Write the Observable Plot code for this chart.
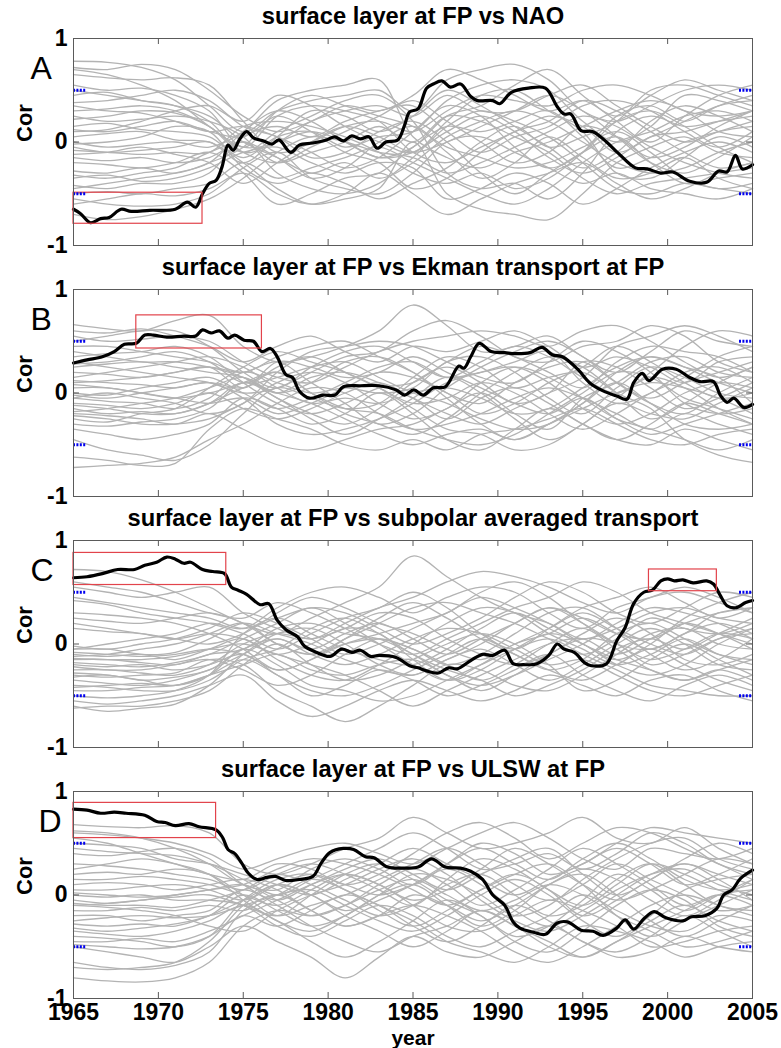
<!DOCTYPE html>
<html>
<head>
<meta charset="utf-8">
<script src="https://cdn.jsdelivr.net/npm/d3@7"></script>
<script src="https://cdn.jsdelivr.net/npm/@observablehq/plot@0.6"></script>
<style>
  html, body { margin: 0; padding: 0; background: #fff; }
  #chart { position: relative; width: 781px; height: 1048px; font-family: "Liberation Sans", Arial, Helvetica, sans-serif; }
  #chart svg { position: absolute; left: 0; }
</style>
</head>
<body>
<div id="chart"></div>
<script>
// Running correlation between the surface layer at FP and four drivers.
// Gray: ensemble members; black: observed; red boxes: significant periods;
// blue dashes: the +/-0.5 significance level.

const memberYears = [1965,1967,1969,1971,1973,1975,1977,1979,1981,1983,1985,1987,1989,1991,1993,1995,1997,1999,2001,2003,2005];
const xTicks = [1965,1970,1975,1980,1985,1990,1995,2000,2005];
const yTicks = [-1,0,1];
const sigLevels = [0.5,-0.5];

const titles = [
  "surface layer at FP vs NAO",
  "surface layer at FP vs Ekman transport at FP",
  "surface layer at FP vs subpolar averaged transport",
  "surface layer at FP vs ULSW at FP"
];
const letters = ["A","B","C","D"];

const grayA = [
  [0.78,0.77,0.72,0.6,0.35,0.1,0.3,0.4,0.45,0.5,0.3,0.6,0.7,0.75,0.6,0.3,0.2,0.35,0.5,0.55,0.5],
  [0.65,0.62,0.6,0.62,0.55,0.2,-0.1,0.0,0.15,0.2,0.1,0.3,0.45,0.4,0.35,0.5,0.55,0.45,0.3,0.25,0.3],
  [0.55,0.5,0.52,0.45,0.3,-0.05,0.25,0.35,0.3,0.2,-0.1,-0.2,-0.05,0.1,0.25,0.15,-0.1,0.05,0.2,0.35,0.4],
  [0.45,0.48,0.4,0.35,0.25,0.0,-0.15,-0.3,-0.2,-0.35,-0.2,0.05,0.2,0.3,0.2,0.0,-0.2,-0.3,-0.25,-0.1,0.0],
  [0.3,0.32,0.35,0.3,0.15,-0.1,0.1,0.25,0.4,0.45,0.2,-0.3,-0.45,-0.4,-0.55,-0.3,0.1,0.25,0.15,0.2,0.25],
  [0.25,0.2,0.22,0.25,0.2,0.05,-0.3,-0.45,-0.5,-0.4,-0.15,0.15,0.3,0.2,0.05,-0.2,-0.45,-0.5,-0.4,-0.45,-0.5],
  [0.15,0.18,0.12,0.1,0.05,-0.15,0.05,0.1,-0.05,0.05,0.1,0.4,0.55,0.6,0.5,0.2,0.0,0.15,0.45,0.4,0.3],
  [0.05,0.08,0.1,0.02,0.0,-0.2,-0.45,-0.6,-0.55,-0.45,0.0,-0.5,-0.65,-0.7,-0.75,-0.5,-0.2,-0.05,0.05,-0.1,-0.15],
  [0.0,-0.05,-0.02,0.0,-0.05,0.1,0.4,0.5,0.55,0.6,0.05,-0.15,-0.25,-0.1,0.0,0.15,0.3,0.4,0.3,0.1,0.05],
  [-0.08,-0.1,-0.12,-0.1,-0.1,0.15,0.2,0.15,0.05,-0.1,-0.3,-0.4,-0.3,-0.45,-0.35,-0.1,0.25,0.35,0.2,0.35,0.45],
  [-0.15,-0.18,-0.15,-0.2,-0.15,0.0,-0.2,-0.1,0.0,0.15,0.0,0.25,0.2,0.05,-0.1,-0.35,-0.5,-0.4,-0.35,-0.3,-0.25],
  [-0.2,-0.22,-0.25,-0.2,-0.1,-0.3,-0.6,-0.5,-0.35,-0.3,-0.05,0.15,0.1,0.2,0.3,0.05,-0.25,-0.15,0.0,0.1,0.15],
  [-0.28,-0.3,-0.25,-0.3,-0.2,-0.05,0.3,0.45,0.35,0.25,0.15,-0.05,-0.15,-0.25,-0.2,-0.05,0.1,-0.1,-0.35,-0.45,-0.4],
  [-0.35,-0.32,-0.38,-0.35,-0.25,-0.1,-0.05,-0.2,-0.3,-0.2,-0.25,-0.55,-0.45,-0.3,-0.4,-0.6,-0.45,-0.25,-0.1,0.0,-0.1],
  [-0.42,-0.45,-0.4,-0.4,-0.3,0.05,0.15,0.05,0.2,0.3,0.35,0.1,-0.1,0.05,0.15,0.35,0.4,0.3,0.1,-0.05,0.1],
  [-0.5,-0.48,-0.5,-0.45,-0.4,-0.2,-0.35,-0.25,-0.15,-0.05,-0.2,-0.35,-0.5,-0.6,-0.45,-0.2,0.0,0.1,0.25,0.3,0.2],
  [-0.55,-0.6,-0.62,-0.6,-0.5,-0.25,-0.1,-0.35,-0.45,-0.5,-0.3,0.0,0.05,-0.1,-0.25,-0.4,-0.3,-0.45,-0.5,-0.55,-0.45],
  [-0.7,-0.75,-0.72,-0.65,-0.55,-0.35,-0.1,0.05,0.0,-0.1,-0.15,-0.3,-0.2,-0.05,0.1,0.25,0.15,-0.05,-0.2,-0.3,-0.35],
  [0.7,0.65,0.55,0.4,0.15,-0.05,0.0,0.2,0.3,0.35,0.25,0.45,0.3,0.3,0.45,0.55,0.35,0.15,0.0,0.1,0.2],
  [0.38,0.4,0.45,0.5,0.4,0.15,0.05,-0.15,-0.1,0.1,0.2,0.0,-0.3,-0.5,-0.3,-0.1,0.05,-0.2,-0.4,-0.35,-0.3],
  [0.1,0.12,0.2,0.3,0.35,0.2,0.45,0.35,0.15,0.0,-0.1,0.2,0.45,0.5,0.3,0.1,-0.3,-0.35,-0.15,0.05,-0.05],
  [-0.02,0.0,0.05,0.15,0.1,-0.25,-0.4,-0.3,-0.4,-0.55,-0.4,-0.25,0.0,0.15,-0.05,0.05,0.2,0.5,0.55,0.45,0.35],
  [0.72,0.7,0.75,0.7,0.5,0.25,0.1,0.2,0.35,0.3,0.45,0.7,0.6,0.45,0.3,0.4,0.25,0.45,0.6,0.5,0.4],
  [0.22,0.25,0.3,0.28,0.15,-0.1,-0.2,-0.05,0.1,0.25,0.4,0.2,0.0,-0.2,-0.1,0.15,0.05,-0.15,-0.05,0.15,0.3],
  [0.12,0.1,0.15,0.2,0.1,0.05,0.25,0.1,-0.1,-0.2,-0.45,-0.35,-0.1,0.1,0.2,0.4,0.3,0.1,-0.1,-0.25,-0.2],
  [-0.05,-0.1,-0.08,-0.05,0.0,-0.2,0.05,0.3,0.25,0.1,0.25,0.5,0.35,0.15,-0.05,-0.25,-0.1,0.2,0.35,0.25,0.1],
  [-0.12,-0.1,-0.05,-0.12,-0.2,-0.4,-0.2,0.0,0.15,0.05,-0.1,0.0,0.15,0.3,0.45,0.3,0.05,-0.2,-0.3,-0.15,0.05],
  [-0.32,-0.35,-0.3,-0.25,-0.1,0.0,-0.15,-0.35,-0.25,0.0,0.15,-0.1,-0.35,-0.2,0.05,-0.15,-0.35,-0.3,-0.15,-0.35,-0.45],
  [-0.45,-0.4,-0.35,-0.3,-0.2,0.1,0.3,0.2,0.0,-0.15,-0.1,0.1,0.25,0.1,-0.15,-0.3,-0.15,0.05,0.1,0.2,0.3],
  [0.35,0.3,0.28,0.2,0.1,0.15,0.05,-0.1,-0.25,-0.15,0.1,0.35,0.25,-0.05,-0.25,-0.1,0.2,0.3,0.15,-0.05,-0.2],
  [-0.6,-0.55,-0.5,-0.52,-0.45,-0.3,-0.5,-0.6,-0.5,-0.3,-0.5,-0.7,-0.55,-0.4,-0.3,-0.2,-0.4,-0.55,-0.45,-0.3,-0.2],
  [0.5,0.45,0.4,0.35,0.2,-0.1,0.0,0.1,0.0,-0.15,-0.05,0.25,0.35,0.55,0.7,0.45,0.2,0.0,0.25,0.45,0.55]
];

const grayB = [
  [0.66,0.62,0.6,0.7,0.75,0.45,0.3,0.35,0.45,0.6,0.85,0.65,0.4,0.45,0.55,0.35,0.2,0.4,0.6,0.5,0.45],
  [0.55,0.5,0.52,0.55,0.5,0.3,0.15,0.1,0.25,0.4,0.5,0.55,0.6,0.55,0.45,0.6,0.65,0.5,0.3,0.15,0.25],
  [0.45,0.45,0.4,0.35,0.3,0.2,0.35,0.45,0.5,0.35,0.2,0.0,-0.1,0.1,0.25,0.3,0.1,-0.05,0.1,0.2,0.3],
  [0.35,0.38,0.4,0.45,0.35,0.1,-0.1,-0.2,-0.1,0.05,0.1,0.3,0.45,0.35,0.2,0.05,0.3,0.45,0.4,0.35,0.2],
  [0.25,0.28,0.3,0.25,0.2,0.15,0.0,0.15,0.2,0.1,-0.05,-0.2,-0.3,-0.15,0.0,0.15,0.45,0.55,0.65,0.55,0.4],
  [0.2,0.18,0.15,0.2,0.25,0.05,0.3,0.25,0.15,0.2,0.35,0.2,0.05,-0.1,-0.2,-0.05,-0.25,-0.4,-0.3,-0.2,-0.1],
  [0.12,0.1,0.08,0.05,0.1,-0.05,-0.3,-0.4,-0.35,-0.25,-0.1,0.1,0.2,0.3,0.4,0.1,-0.1,0.0,0.2,0.25,0.1],
  [0.05,0.05,0.0,-0.05,0.0,0.1,0.2,0.0,-0.15,-0.2,-0.35,-0.45,-0.5,-0.4,-0.2,0.0,0.2,0.15,-0.05,-0.15,-0.25],
  [0.0,-0.02,0.05,0.1,0.15,0.0,-0.15,-0.05,0.1,0.25,0.3,0.15,0.2,0.25,0.1,-0.15,-0.3,-0.2,0.0,0.1,0.05],
  [-0.05,-0.08,-0.1,-0.15,-0.05,0.2,0.1,0.0,0.05,0.0,0.05,0.3,0.35,0.2,-0.05,-0.2,0.05,0.25,0.15,0.0,-0.05],
  [-0.1,-0.12,-0.15,-0.1,0.0,-0.15,-0.25,-0.15,0.0,0.1,-0.05,-0.25,-0.05,0.05,-0.1,-0.3,-0.45,-0.5,-0.35,-0.45,-0.55],
  [-0.15,-0.2,-0.18,-0.2,-0.1,0.05,0.15,0.25,0.3,0.15,0.0,-0.1,-0.25,-0.35,-0.3,-0.1,0.1,-0.1,-0.3,-0.35,-0.3],
  [-0.2,-0.22,-0.25,-0.3,-0.2,-0.35,-0.5,-0.55,-0.45,-0.35,-0.3,-0.15,0.0,-0.2,-0.35,-0.05,0.1,0.3,0.35,0.2,0.15],
  [-0.25,-0.28,-0.2,-0.15,0.05,0.25,0.4,0.3,0.2,0.05,-0.15,-0.35,-0.4,-0.55,-0.5,-0.3,-0.1,-0.2,-0.25,-0.1,0.05],
  [-0.45,-0.55,-0.6,-0.65,-0.5,-0.2,0.05,-0.05,-0.15,-0.1,0.15,0.35,0.25,0.05,0.15,0.2,0.0,-0.15,-0.45,-0.6,-0.67],
  [-0.72,-0.7,-0.68,-0.62,-0.45,-0.3,-0.1,0.05,0.0,-0.2,-0.35,-0.3,-0.2,-0.05,0.05,-0.05,-0.2,-0.35,-0.2,-0.3,-0.4],
  [-0.62,-0.65,-0.7,-0.68,-0.35,-0.15,-0.25,-0.35,-0.5,-0.55,-0.45,-0.55,-0.4,-0.35,-0.25,-0.15,-0.3,-0.45,-0.5,-0.4,-0.35],
  [0.6,0.58,0.62,0.55,0.45,0.3,0.45,0.55,0.4,0.3,0.45,0.4,0.5,0.6,0.45,0.25,0.35,0.25,0.1,0.3,0.35],
  [0.3,0.25,0.2,0.15,0.1,0.0,0.05,0.2,0.35,0.4,0.6,0.7,0.55,0.35,0.3,0.45,0.5,0.65,0.55,0.3,0.2],
  [-0.3,-0.32,-0.28,-0.25,-0.15,0.1,0.0,-0.1,-0.25,-0.4,-0.5,-0.4,-0.35,-0.45,-0.3,-0.15,0.0,0.1,0.05,-0.05,-0.2],
  [0.15,0.2,0.25,0.3,0.35,0.25,0.05,-0.1,-0.05,-0.1,0.0,0.05,-0.05,-0.2,-0.15,0.05,0.25,0.35,0.25,0.15,-0.1],
  [-0.05,0.0,-0.05,-0.1,-0.2,-0.1,0.2,0.4,0.45,0.5,0.45,0.3,0.15,0.1,0.3,0.5,0.4,0.2,-0.1,-0.2,-0.15],
  [0.5,0.55,0.6,0.6,0.45,0.2,0.05,0.25,0.4,0.45,0.3,0.15,0.3,0.45,0.35,0.15,0.0,0.2,0.45,0.6,0.55],
  [0.4,0.35,0.3,0.3,0.25,0.15,-0.05,-0.2,-0.3,-0.15,0.1,0.25,0.1,-0.1,0.0,0.3,0.25,0.05,-0.15,-0.05,0.1],
  [0.1,0.12,0.15,0.2,0.25,0.2,0.3,0.1,-0.1,-0.3,-0.2,0.05,0.25,0.4,0.5,0.35,0.1,-0.1,-0.2,0.0,0.15],
  [-0.02,-0.05,0.0,0.05,0.1,0.05,0.25,0.35,0.2,0.05,-0.1,-0.05,0.1,0.0,-0.2,-0.35,-0.2,0.0,0.15,0.35,0.45],
  [-0.12,-0.15,-0.2,-0.2,-0.1,0.1,-0.05,-0.25,-0.4,-0.25,-0.05,0.15,0.0,-0.25,-0.45,-0.3,-0.05,0.15,0.05,-0.15,-0.3],
  [-0.18,-0.15,-0.1,-0.05,0.05,0.15,0.0,0.1,0.3,0.35,0.2,-0.05,-0.3,-0.45,-0.3,-0.1,0.2,0.35,0.25,0.1,0.0],
  [-0.22,-0.25,-0.3,-0.3,-0.25,-0.1,0.1,0.2,0.1,-0.1,-0.25,-0.15,0.1,0.25,0.15,-0.05,-0.25,-0.35,-0.45,-0.55,-0.45],
  [0.28,0.3,0.35,0.4,0.3,0.1,0.2,0.0,-0.2,-0.3,-0.4,-0.25,0.0,0.2,0.35,0.25,0.0,-0.25,-0.1,0.1,0.25],
  [0.08,0.05,0.0,-0.05,-0.1,-0.05,-0.2,-0.1,0.05,0.2,0.15,0.0,-0.2,-0.1,0.1,0.25,0.45,0.3,0.1,-0.05,0.0],
  [-0.35,-0.4,-0.45,-0.4,-0.3,-0.05,-0.15,-0.3,-0.2,0.0,-0.2,-0.45,-0.55,-0.35,-0.15,-0.3,-0.45,-0.3,-0.1,-0.2,-0.3]
];

const grayC = [
  [0.72,0.7,0.62,0.5,0.35,0.2,0.1,0.25,0.4,0.55,0.85,0.65,0.45,0.3,0.2,0.05,0.15,0.3,0.35,0.25,0.2],
  [0.55,0.5,0.45,0.5,0.55,0.3,0.15,0.05,0.2,0.35,0.45,0.6,0.7,0.65,0.55,0.4,0.3,0.45,0.5,0.4,0.3],
  [0.45,0.4,0.35,0.3,0.25,0.15,0.25,0.35,0.3,0.15,0.0,0.1,0.25,0.45,0.6,0.5,0.3,0.2,0.35,0.5,0.45],
  [0.25,0.22,0.2,0.25,0.3,0.2,0.0,-0.1,0.05,0.2,0.35,0.4,0.3,0.2,0.05,-0.1,0.05,0.25,0.15,0.1,0.2],
  [0.15,0.12,0.1,0.05,0.0,0.1,0.3,0.45,0.35,0.2,0.1,-0.05,-0.15,0.0,0.15,0.3,0.15,0.0,-0.1,0.05,0.15],
  [-0.05,-0.05,-0.1,-0.08,0.05,0.2,0.1,0.0,-0.15,-0.25,-0.3,-0.15,0.0,0.2,0.35,0.25,0.1,0.05,0.2,0.3,0.35],
  [-0.1,-0.12,-0.1,-0.15,-0.05,0.05,-0.15,-0.3,-0.35,-0.2,0.0,0.2,0.35,0.3,0.1,-0.05,-0.2,-0.1,0.05,-0.1,-0.2],
  [-0.15,-0.15,-0.18,-0.2,-0.1,-0.05,0.15,0.2,0.1,0.05,-0.1,-0.3,-0.4,-0.3,-0.15,0.0,0.2,0.35,0.3,0.2,0.05],
  [-0.2,-0.22,-0.2,-0.25,-0.2,-0.1,-0.3,-0.45,-0.5,-0.4,-0.25,-0.1,0.05,-0.1,-0.25,-0.35,-0.2,-0.05,-0.2,-0.35,-0.45],
  [-0.25,-0.25,-0.28,-0.3,-0.2,0.0,0.1,0.05,0.15,0.3,0.25,0.05,-0.1,-0.2,-0.1,0.1,0.25,0.1,-0.15,-0.2,-0.1],
  [-0.3,-0.32,-0.3,-0.28,-0.15,-0.2,-0.45,-0.6,-0.75,-0.6,-0.4,-0.2,-0.25,-0.4,-0.45,-0.3,-0.1,0.1,0.15,0.0,-0.05],
  [-0.35,-0.38,-0.4,-0.35,-0.25,-0.1,0.05,-0.1,-0.2,-0.1,0.05,0.15,0.1,-0.05,-0.2,-0.15,-0.3,-0.45,-0.5,-0.4,-0.3],
  [-0.4,-0.42,-0.45,-0.45,-0.35,-0.15,-0.05,0.15,0.25,0.1,-0.1,-0.25,-0.35,-0.5,-0.4,-0.25,-0.05,0.05,-0.05,0.1,0.25],
  [-0.5,-0.52,-0.5,-0.45,-0.3,0.1,0.25,0.1,-0.05,-0.15,-0.2,-0.05,0.15,0.3,0.15,0.0,-0.15,-0.25,-0.35,-0.25,-0.15],
  [-0.55,-0.58,-0.55,-0.5,-0.4,-0.3,-0.55,-0.7,-0.6,-0.45,-0.35,-0.45,-0.55,-0.45,-0.3,-0.4,-0.5,-0.35,-0.3,-0.45,-0.55],
  [-0.62,-0.6,-0.6,-0.55,-0.45,-0.2,0.0,-0.2,-0.35,-0.3,-0.15,0.0,0.1,0.0,-0.2,-0.45,-0.35,-0.15,0.0,-0.15,-0.3],
  [0.3,0.28,0.25,0.2,0.1,-0.05,-0.25,-0.15,0.0,0.1,0.2,0.3,0.5,0.6,0.45,0.2,0.0,-0.05,0.1,0.3,0.35],
  [-0.05,0.0,0.05,0.1,0.2,0.15,0.35,0.5,0.55,0.45,0.3,0.45,0.55,0.5,0.3,0.15,0.35,0.45,0.55,0.45,0.3],
  [-0.28,-0.3,-0.35,-0.4,-0.3,-0.05,-0.2,-0.4,-0.45,-0.55,-0.5,-0.35,-0.2,-0.05,0.05,-0.1,-0.25,-0.4,-0.45,-0.5,-0.5],
  [-0.12,-0.1,-0.05,0.0,0.1,0.2,0.0,-0.1,0.0,0.05,-0.05,-0.2,-0.1,0.1,0.3,0.35,0.15,-0.1,-0.25,-0.15,0.05],
  [0.6,0.55,0.5,0.4,0.3,0.25,0.4,0.3,0.15,0.0,-0.1,0.05,0.2,0.35,0.45,0.6,0.5,0.3,0.2,0.1,0.0],
  [-0.45,-0.45,-0.42,-0.4,-0.3,-0.2,-0.1,-0.25,-0.3,-0.2,-0.15,-0.3,-0.45,-0.3,-0.1,0.05,0.0,-0.2,-0.1,0.05,0.1],
  [0.42,0.38,0.3,0.25,0.2,0.1,-0.05,0.1,0.25,0.35,0.5,0.35,0.1,-0.05,0.15,0.35,0.45,0.55,0.4,0.25,0.35],
  [-0.02,-0.05,0.0,0.05,0.15,0.3,0.2,0.05,-0.1,0.0,0.15,0.3,0.45,0.35,0.2,0.0,-0.15,0.0,0.25,0.4,0.5],
  [-0.08,-0.1,-0.12,-0.1,-0.05,-0.1,-0.25,-0.15,0.05,0.25,0.4,0.25,0.05,-0.1,-0.25,-0.15,0.1,0.2,0.05,-0.1,-0.15],
  [-0.18,-0.2,-0.22,-0.18,-0.1,0.05,0.2,0.35,0.2,0.0,-0.2,-0.35,-0.2,0.0,0.1,0.25,0.1,-0.05,0.1,0.2,0.1],
  [-0.22,-0.25,-0.25,-0.2,-0.15,-0.25,-0.4,-0.3,-0.1,0.05,-0.05,-0.2,-0.35,-0.2,0.0,0.15,-0.05,-0.25,-0.35,-0.25,-0.35],
  [-0.32,-0.3,-0.35,-0.32,-0.25,-0.05,0.05,-0.05,0.1,0.2,0.05,-0.1,0.05,0.2,0.35,0.2,0.0,-0.15,-0.05,0.1,0.05],
  [-0.42,-0.4,-0.38,-0.4,-0.3,-0.15,-0.3,-0.5,-0.4,-0.25,-0.35,-0.5,-0.4,-0.25,-0.1,-0.3,-0.45,-0.55,-0.4,-0.3,-0.4],
  [-0.6,-0.65,-0.62,-0.58,-0.4,-0.1,0.1,0.15,0.0,-0.2,-0.3,-0.15,-0.05,-0.2,-0.35,-0.2,0.0,0.15,0.0,-0.2,-0.25],
  [0.2,0.15,0.1,0.05,0.1,0.05,-0.1,0.0,0.15,0.1,-0.15,-0.35,-0.25,-0.05,0.1,0.0,-0.2,-0.3,-0.2,0.0,0.15],
  [-0.14,-0.15,-0.15,-0.12,-0.05,0.0,-0.1,-0.2,-0.3,-0.45,-0.6,-0.45,-0.3,-0.15,0.0,0.05,-0.1,0.05,0.2,0.1,-0.05]
];

const grayD = [
  [0.68,0.66,0.65,0.67,0.6,0.3,0.2,0.3,0.45,0.55,0.75,0.6,0.45,0.5,0.6,0.75,0.55,0.5,0.65,0.45,0.3],
  [0.6,0.58,0.55,0.5,0.4,0.25,0.35,0.45,0.5,0.4,0.3,0.45,0.6,0.7,0.55,0.35,0.25,0.45,0.4,0.35,0.45],
  [0.5,0.48,0.45,0.35,0.3,0.2,0.1,0.0,0.15,0.3,0.45,0.3,0.15,0.0,0.15,0.3,0.45,0.3,0.1,0.2,0.35],
  [0.4,0.38,0.42,0.45,0.35,0.1,-0.05,0.1,0.25,0.35,0.2,0.05,0.2,0.35,0.45,0.2,0.0,0.15,0.35,0.5,0.4],
  [0.3,0.28,0.25,0.2,0.15,0.05,0.2,0.3,0.2,0.05,-0.1,0.15,0.35,0.25,0.05,-0.1,0.1,0.3,0.2,0.05,-0.05],
  [0.2,0.22,0.2,0.25,0.2,0.0,-0.2,-0.1,0.0,0.15,0.3,0.45,0.3,0.1,-0.05,0.1,0.3,0.15,0.0,-0.15,-0.1],
  [0.1,0.12,0.1,0.05,0.1,0.15,0.05,-0.15,-0.3,-0.2,0.0,-0.1,-0.25,-0.1,0.1,0.25,0.15,-0.05,-0.2,-0.05,0.15],
  [0.05,0.05,0.08,0.1,0.05,-0.05,0.1,0.2,0.1,0.0,0.1,0.25,0.1,-0.15,-0.3,-0.15,0.05,0.2,0.25,0.1,0.0],
  [0.0,-0.02,0.0,-0.05,-0.05,-0.1,-0.3,-0.4,-0.25,-0.1,-0.2,-0.4,-0.5,-0.35,-0.2,0.0,-0.15,-0.3,-0.35,-0.2,-0.25],
  [-0.05,-0.08,-0.05,0.0,0.05,0.1,0.25,0.35,0.3,0.2,0.05,-0.1,0.05,0.2,0.3,0.1,-0.2,-0.4,-0.25,-0.1,0.05],
  [-0.15,-0.15,-0.12,-0.15,-0.1,-0.15,0.0,0.05,-0.1,-0.25,-0.35,-0.2,0.0,0.15,0.0,-0.25,-0.4,-0.2,0.05,0.15,0.2],
  [-0.2,-0.2,-0.25,-0.2,-0.15,0.05,-0.1,-0.3,-0.45,-0.55,-0.4,-0.3,-0.15,-0.3,-0.45,-0.6,-0.45,-0.25,-0.1,-0.25,-0.35],
  [-0.28,-0.3,-0.28,-0.3,-0.2,-0.05,0.1,0.0,-0.15,-0.05,0.1,0.3,0.45,0.3,0.15,0.35,0.5,0.35,0.15,0.05,0.1],
  [-0.35,-0.38,-0.4,-0.35,-0.25,-0.1,-0.25,-0.45,-0.6,-0.45,-0.25,-0.05,-0.2,-0.45,-0.55,-0.35,-0.1,0.05,-0.05,-0.3,-0.4],
  [-0.45,-0.45,-0.42,-0.45,-0.35,-0.2,-0.05,0.1,0.2,0.1,-0.1,-0.3,-0.35,-0.2,-0.05,-0.15,-0.3,-0.5,-0.45,-0.35,-0.3],
  [-0.5,-0.55,-0.6,-0.65,-0.5,-0.3,-0.45,-0.6,-0.8,-0.6,-0.4,-0.55,-0.6,-0.45,-0.3,-0.45,-0.6,-0.55,-0.4,-0.5,-0.55],
  [-0.65,-0.7,-0.72,-0.68,-0.55,-0.15,0.0,-0.15,-0.3,-0.2,-0.1,-0.2,-0.35,-0.55,-0.65,-0.5,-0.3,-0.1,0.0,-0.1,-0.2],
  [-0.8,-0.83,-0.84,-0.8,-0.65,-0.3,-0.15,-0.2,-0.1,0.05,0.15,0.0,-0.15,-0.05,0.1,0.0,-0.2,-0.35,-0.5,-0.45,-0.35],
  [0.55,0.5,0.4,0.3,0.2,0.15,0.3,0.25,0.1,0.2,0.4,0.6,0.7,0.55,0.35,0.5,0.65,0.6,0.45,0.3,0.15],
  [0.25,0.3,0.35,0.3,0.2,-0.05,-0.25,-0.35,-0.2,0.0,0.2,0.15,0.0,-0.2,-0.1,0.15,0.35,0.5,0.55,0.35,0.25],
  [-0.1,-0.12,-0.15,-0.2,-0.3,-0.35,-0.15,0.0,0.1,0.25,0.35,0.2,-0.05,-0.25,-0.35,-0.2,0.0,0.2,0.3,0.2,0.1],
  [-0.4,-0.42,-0.45,-0.5,-0.4,-0.05,0.15,0.2,0.05,-0.1,-0.25,-0.45,-0.55,-0.65,-0.5,-0.3,-0.35,-0.45,-0.6,-0.5,-0.45],
  [0.45,0.42,0.4,0.38,0.3,0.15,0.0,0.15,0.3,0.45,0.6,0.45,0.25,0.3,0.4,0.25,0.4,0.6,0.5,0.3,0.2],
  [0.15,0.15,0.18,0.15,0.1,0.0,-0.1,0.05,0.2,0.1,-0.05,0.05,0.25,0.45,0.3,0.1,-0.05,0.05,0.2,0.35,0.3],
  [0.02,0.0,-0.02,0.0,0.05,0.1,-0.05,-0.2,-0.1,0.1,0.25,0.1,-0.1,0.05,0.25,0.45,0.3,0.1,-0.1,0.0,-0.1],
  [-0.08,-0.1,-0.1,-0.12,-0.05,0.05,0.2,0.1,-0.05,-0.2,-0.1,0.1,0.2,0.0,-0.2,-0.1,0.15,0.3,0.1,-0.1,-0.15],
  [-0.1,-0.08,-0.05,-0.02,0.0,-0.1,-0.2,0.0,0.2,0.3,0.15,-0.05,-0.2,-0.4,-0.3,-0.05,0.2,0.05,-0.15,0.0,0.15],
  [-0.25,-0.22,-0.2,-0.22,-0.2,-0.1,0.0,0.15,0.05,-0.15,-0.3,-0.15,0.05,0.2,0.05,-0.2,-0.05,0.15,0.3,0.15,-0.05],
  [-0.32,-0.35,-0.32,-0.28,-0.2,0.0,-0.15,-0.3,-0.2,0.0,0.1,-0.1,-0.3,-0.15,0.1,0.2,0.0,-0.25,-0.4,-0.25,-0.1],
  [-0.48,-0.5,-0.52,-0.5,-0.4,-0.2,-0.3,-0.15,0.0,-0.1,-0.3,-0.45,-0.3,-0.1,-0.25,-0.45,-0.55,-0.4,-0.2,-0.35,-0.5],
  [-0.7,-0.72,-0.7,-0.65,-0.45,-0.1,0.1,0.0,-0.2,-0.35,-0.5,-0.35,-0.15,-0.3,-0.5,-0.6,-0.45,-0.3,-0.15,0.0,0.05],
  [0.62,0.6,0.55,0.45,0.3,0.1,0.05,0.25,0.35,0.25,0.1,0.3,0.5,0.4,0.2,0.3,0.5,0.65,0.6,0.55,0.5]
];

// observed running correlation: [year, r]
const blackA = [[1965.0,-0.65],[1965.4,-0.69],[1966.0,-0.78],[1966.6,-0.74],[1967.1,-0.73],[1967.8,-0.65],[1968.4,-0.67],[1969.5,-0.66],[1971.0,-0.65],[1971.7,-0.58],[1972.2,-0.63],[1972.6,-0.50],[1973.0,-0.40],[1973.4,-0.37],[1973.75,-0.24],[1974.1,-0.03],[1974.4,-0.08],[1974.8,0.03],[1975.2,0.10],[1975.6,0.04],[1976.2,0.01],[1976.7,-0.02],[1977.1,0.02],[1977.8,-0.10],[1978.3,-0.03],[1979.1,-0.01],[1979.9,0.02],[1980.4,0.05],[1980.9,0.01],[1981.4,0.06],[1981.9,0.03],[1982.4,0.05],[1982.9,-0.06],[1983.4,0.00],[1984.1,0.02],[1984.5,0.16],[1984.8,0.29],[1985.3,0.32],[1985.8,0.52],[1986.2,0.56],[1986.7,0.59],[1987.2,0.53],[1987.8,0.56],[1988.4,0.44],[1988.8,0.40],[1989.7,0.40],[1990.1,0.37],[1990.8,0.48],[1991.8,0.52],[1992.8,0.52],[1993.5,0.34],[1993.9,0.27],[1994.3,0.27],[1994.9,0.11],[1995.6,0.10],[1996.4,0.00],[1997.1,-0.11],[1998.1,-0.25],[1998.8,-0.26],[1999.6,-0.30],[2000.3,-0.29],[2001.3,-0.38],[2002.3,-0.39],[2003.0,-0.28],[2003.5,-0.29],[2004.0,-0.13],[2004.4,-0.26],[2005.0,-0.22]];
const blackB = [[1965.0,0.29],[1965.8,0.32],[1966.7,0.35],[1967.4,0.40],[1968.0,0.47],[1968.7,0.48],[1969.2,0.56],[1969.7,0.56],[1970.5,0.54],[1971.5,0.55],[1972.2,0.55],[1972.6,0.61],[1973.1,0.58],[1973.6,0.60],[1974.1,0.53],[1974.5,0.56],[1975.05,0.51],[1975.6,0.50],[1976.1,0.40],[1976.6,0.43],[1977.0,0.35],[1977.5,0.18],[1977.9,0.15],[1978.3,0.02],[1978.9,-0.05],[1979.7,-0.02],[1980.4,-0.02],[1980.9,0.06],[1981.9,0.07],[1983.0,0.07],[1984.0,0.03],[1984.5,-0.02],[1985.05,0.03],[1985.6,-0.02],[1986.2,0.05],[1986.9,0.06],[1987.7,0.26],[1988.0,0.24],[1988.4,0.35],[1988.9,0.48],[1989.6,0.40],[1990.4,0.39],[1991.0,0.38],[1991.9,0.39],[1992.6,0.44],[1993.2,0.37],[1993.8,0.35],[1994.7,0.23],[1995.4,0.10],[1996.2,0.02],[1997.0,-0.03],[1997.6,-0.06],[1998.0,0.10],[1998.5,0.19],[1998.9,0.12],[1999.7,0.23],[2000.5,0.23],[2001.3,0.15],[2001.9,0.11],[2002.7,0.11],[2003.1,-0.02],[2003.5,-0.09],[2003.9,-0.05],[2004.5,-0.14],[2005.0,-0.11]];
const blackC = [[1965.0,0.64],[1965.8,0.65],[1966.7,0.68],[1967.6,0.72],[1968.6,0.72],[1969.2,0.76],[1969.9,0.79],[1970.5,0.84],[1971.0,0.82],[1971.5,0.78],[1971.9,0.79],[1972.6,0.72],[1973.2,0.70],[1973.9,0.68],[1974.3,0.55],[1974.7,0.52],[1975.2,0.48],[1976.0,0.38],[1976.5,0.39],[1977.0,0.23],[1977.5,0.14],[1978.2,0.07],[1978.6,-0.02],[1979.3,-0.08],[1980.1,-0.12],[1980.8,-0.05],[1981.4,-0.08],[1981.9,-0.06],[1982.5,-0.12],[1983.0,-0.11],[1984.0,-0.13],[1984.8,-0.21],[1985.3,-0.23],[1985.8,-0.26],[1986.5,-0.28],[1987.1,-0.23],[1987.6,-0.24],[1988.4,-0.16],[1989.1,-0.10],[1989.7,-0.11],[1990.4,-0.06],[1990.9,-0.19],[1991.5,-0.20],[1992.3,-0.19],[1993.0,-0.11],[1993.5,0.00],[1993.9,-0.05],[1994.5,-0.08],[1995.1,-0.18],[1995.5,-0.21],[1996.4,-0.19],[1997.0,0.03],[1997.5,0.16],[1998.0,0.39],[1998.6,0.50],[1999.1,0.52],[1999.6,0.61],[2000.0,0.63],[2000.4,0.61],[2000.9,0.62],[2001.5,0.59],[2002.3,0.61],[2002.7,0.58],[2003.1,0.47],[2003.5,0.37],[2004.0,0.35],[2004.6,0.40],[2005.0,0.42]];
const blackD = [[1965.0,0.83],[1965.8,0.82],[1966.6,0.79],[1967.4,0.80],[1968.1,0.79],[1969.2,0.77],[1969.9,0.71],[1970.4,0.70],[1971.0,0.67],[1971.8,0.69],[1972.4,0.66],[1973.4,0.63],[1973.8,0.55],[1974.1,0.44],[1974.5,0.40],[1974.9,0.31],[1975.3,0.21],[1975.8,0.15],[1976.4,0.17],[1976.9,0.18],[1977.5,0.14],[1978.3,0.15],[1979.1,0.18],[1979.6,0.31],[1980.1,0.41],[1980.9,0.45],[1981.5,0.44],[1982.2,0.37],[1982.7,0.36],[1983.5,0.27],[1984.5,0.26],[1985.3,0.27],[1986.1,0.35],[1986.9,0.27],[1987.8,0.26],[1988.4,0.23],[1989.1,0.15],[1989.7,0.00],[1990.4,-0.10],[1990.9,-0.26],[1991.3,-0.32],[1992.1,-0.36],[1992.8,-0.38],[1993.5,-0.27],[1994.1,-0.26],[1994.9,-0.34],[1995.6,-0.35],[1996.2,-0.39],[1997.0,-0.32],[1997.5,-0.24],[1998.0,-0.33],[1998.6,-0.23],[1999.2,-0.16],[1999.9,-0.22],[2000.9,-0.25],[2001.4,-0.21],[2002.2,-0.20],[2002.9,-0.13],[2003.3,0.00],[2003.8,0.05],[2004.3,0.16],[2005.0,0.24]];

// periods where the observed correlation stays significant
const boxesA = [{start:1965, end:1972.6, lo:-0.79, hi:-0.49}];
const boxesB = [{start:1968.7, end:1976.1, lo:0.43, hi:0.75}];
const boxesC = [{start:1965, end:1974.0, lo:0.57, hi:0.88}, {start:1998.9, end:2002.9, lo:0.51, hi:0.72}];
const boxesD = [{start:1965, end:1973.4, lo:0.55, hi:0.89}];

const panels = [
  {gray: grayA, black: blackA, boxes: boxesA},
  {gray: grayB, black: blackB, boxes: boxesB},
  {gray: grayC, black: blackC, boxes: boxesC},
  {gray: grayD, black: blackD, boxes: boxesD}
];

const FONT = '"Liberation Sans", Arial, Helvetica, sans-serif';
const W = 781, ML = 73, MR = 29, MT = 36, PH = 207, STEP = 251;
const x0 = xTicks[0], x1 = xTicks[xTicks.length - 1];
const pxX = (x1 - x0) / (W - ML - MR);   // years per pixel
const pxY = 2 / PH;                      // r per pixel
const TICK = 6;

const chart = document.getElementById("chart");

panels.forEach((p, i) => {
  const last = i === panels.length - 1;
  const MB = last ? 1048 - (MT + PH) - STEP * i - 2 : STEP - MT - PH;
  const members = p.gray.flatMap((vals, m) => vals.map((r, k) => ({member: m, year: memberYears[k], r})));
  const marks = [
    Plot.line(members, {x: "year", y: "r", z: "member", stroke: "#b3b3b3", strokeWidth: 1.3, curve: "catmull-rom"}),
    Plot.line(p.black, {x: d => d[0], y: d => d[1], stroke: "#000", strokeWidth: 3.2, curve: "catmull-rom"}),
    Plot.rect(p.boxes, {x1: "start", x2: "end", y1: "lo", y2: "hi", fill: "none", stroke: "#e2434b", strokeWidth: 1.2}),
    Plot.ruleY(sigLevels, {x1: x0, x2: x0 + 13 * pxX, stroke: "#0000f0", strokeWidth: 3, strokeDasharray: "2,1.4"}),
    Plot.ruleY(sigLevels, {x1: x1 - 13 * pxX, x2: x1, stroke: "#0000f0", strokeWidth: 3, strokeDasharray: "2,1.4"}),
    Plot.frame({stroke: "#5a5a5a", strokeWidth: 1}),
    Plot.ruleX(xTicks, {y1: -1, y2: -1 + TICK * pxY, stroke: "#5a5a5a"}),
    Plot.ruleX(xTicks, {y1: 1, y2: 1 - TICK * pxY, stroke: "#5a5a5a"}),
    Plot.ruleY(yTicks, {x1: x0, x2: x0 + TICK * pxX, stroke: "#5a5a5a"}),
    Plot.ruleY(yTicks, {x1: x1, x2: x1 - TICK * pxX, stroke: "#5a5a5a"}),
    Plot.axisY(yTicks, {tickSize: 0, tickPadding: 6, fontSize: 23, fontWeight: "bold", fill: "#000", tickFormat: d => String(d), label: null}),
    Plot.text([titles[i]], {frameAnchor: "top", dy: -15, lineAnchor: "bottom", fontSize: 23.7, fontWeight: "bold", fill: "#000"}),
    Plot.text([letters[i]], {frameAnchor: "top-left", dx: i === 3 ? -35 : -43, dy: 40, lineAnchor: "bottom", textAnchor: "start", fontSize: 32, fill: "#000"}),
    Plot.text(["Cor"], {frameAnchor: "left", dx: -49, rotate: -90, fontSize: 22, fontWeight: "bold", fill: "#000"})
  ];
  if (last) {
    marks.push(
      Plot.axisX(xTicks, {tickSize: 0, tickPadding: 5, fontSize: 23, fontWeight: "bold", fill: "#000", tickFormat: d => String(d), label: null}),
      Plot.text(["year"], {frameAnchor: "bottom", dy: 46, lineAnchor: "bottom", fontSize: 21, fontWeight: "bold", fill: "#000"})
    );
  }
  const svg = Plot.plot({
    width: W,
    height: MT + PH + MB,
    marginLeft: ML, marginRight: MR, marginTop: MT, marginBottom: MB,
    x: {domain: [x0, x1], axis: null},
    y: {domain: [-1, 1], axis: null},
    style: {fontFamily: FONT, background: "transparent", overflow: "visible"},
    marks
  });
  svg.style.top = (STEP * i + 2) + "px";
  chart.appendChild(svg);
});
</script>
</body>
</html>
